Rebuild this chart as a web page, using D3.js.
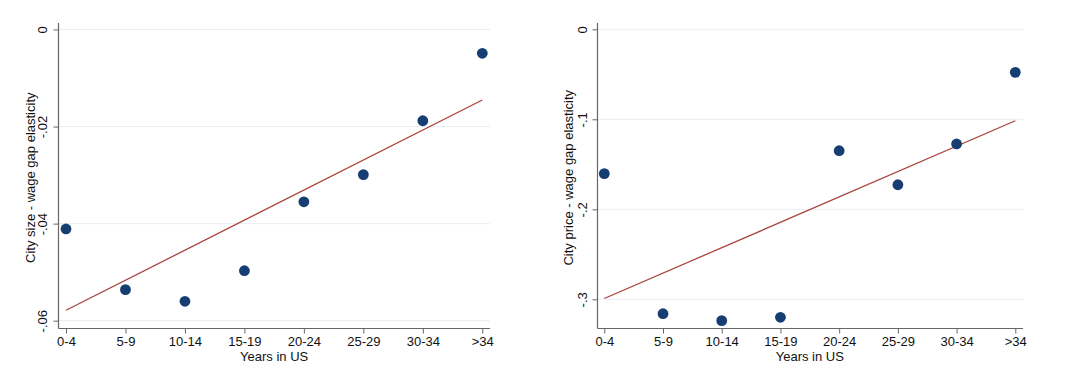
<!DOCTYPE html>
<html lang="en">
<head>
    <meta charset="UTF-8">
    <title>Wage gap elasticity by years in US</title>
    <style>
        body { margin: 0; background: #fff; }
        svg text { font-family: "Liberation Sans", Arial, sans-serif; fill: #111; }
    </style>
</head>
<body>
    <div id="graphArea"></div>
    <script src="https://d3js.org/d3.v7.min.js"></script>
    <script>
        const categories = ["0-4", "5-9", "10-14", "15-19", "20-24", "25-29", "30-34", ">34"];

        const sizeValues = [-0.0411, -0.0536, -0.0560, -0.0497, -0.0355, -0.0299, -0.0188, -0.0049];
        const sizeTicks = [0, -0.02, -0.04, -0.06];
        const sizeTickLabels = ["0", "-.02", "-.04", "-.06"];

        const priceValues = [-0.1604, -0.3160, -0.3237, -0.3200, -0.1349, -0.1727, -0.1274, -0.0478];
        const priceTicks = [0, -0.1, -0.2, -0.3];
        const priceTickLabels = ["0", "-.1", "-.2", "-.3"];

        const xTitle = "Years in US";
        const fontSize = "13px";

        const svg = d3.select("#graphArea")
            .append("svg")
            .attr("width", 1087)
            .attr("height", 377);

        // least squares fit over the category index
        const fitLine = (values) => {
            const n = values.length;
            const mx = d3.mean(values, (d, i) => i);
            const my = d3.mean(values);
            const sxy = d3.sum(values, (d, i) => (i - mx) * (d - my));
            const sxx = d3.sum(values, (d, i) => (i - mx) * (i - mx));
            const b = sxy / sxx;
            const a = my - b * mx;
            return [[0, a], [n - 1, a + b * (n - 1)]];
        };

        const drawPanel = (opts) => {
            const g = svg.append("g");

            const x = d3.scalePoint()
                .domain(categories)
                .range([opts.x0, opts.x1]);

            const y = d3.scaleLinear()
                .domain(opts.domain)
                .range(opts.yRange);

            const xi = d3.scaleLinear()
                .domain([0, categories.length - 1])
                .range([opts.x0, opts.x1]);

            // faint gridlines
            g.selectAll(".grid")
                .data(opts.ticks)
                .enter()
                .append("line")
                .attr("x1", opts.axisX)
                .attr("x2", opts.right)
                .attr("y1", d => y(d))
                .attr("y2", d => y(d))
                .attr("stroke", "#e8eef3")
                .attr("stroke-width", 1);

            // y axis, labels rotated like Stata
            const yAxis = g.append("g")
                .attr("transform", `translate(${opts.axisX},0)`)
                .call(d3.axisLeft(y)
                    .tickValues(opts.ticks)
                    .tickFormat((d, i) => opts.tickLabels[i])
                    .tickSize(5)
                    .tickSizeOuter(0));
            yAxis.select(".domain").remove();
            yAxis.selectAll(".tick line").attr("stroke", "#666");
            yAxis.selectAll(".tick text")
                .attr("transform", "rotate(-90)")
                .attr("x", 0)
                .attr("y", opts.labelX - opts.axisX + 4)
                .attr("dy", 0)
                .style("text-anchor", "middle")
                .style("font-size", fontSize);

            g.append("line")
                .attr("x1", opts.axisX)
                .attr("x2", opts.axisX)
                .attr("y1", opts.top)
                .attr("y2", opts.bottom)
                .attr("stroke", "#666")
                .attr("stroke-width", 1.2);

            // x axis
            const xAxis = g.append("g")
                .attr("transform", `translate(0,${opts.bottom})`)
                .call(d3.axisBottom(x).tickSize(5).tickSizeOuter(0));
            xAxis.select(".domain").remove();
            xAxis.selectAll(".tick line").attr("stroke", "#666");
            xAxis.selectAll(".tick text")
                .attr("y", 8)
                .style("font-size", fontSize);

            g.append("line")
                .attr("x1", opts.axisX)
                .attr("x2", opts.right)
                .attr("y1", opts.bottom)
                .attr("y2", opts.bottom)
                .attr("stroke", "#666")
                .attr("stroke-width", 1.2);

            // fitted line
            g.append("path")
                .datum(fitLine(opts.values))
                .attr("fill", "none")
                .attr("stroke", "#a8443c")
                .attr("stroke-width", 1.3)
                .attr("d", d3.line().x(d => xi(d[0])).y(d => y(d[1])));

            // points
            g.selectAll(".dot")
                .data(opts.values)
                .enter()
                .append("circle")
                .attr("cx", (d, i) => x(categories[i]))
                .attr("cy", d => y(d))
                .attr("r", 5.4)
                .attr("fill", "#173e73");

            // axis titles
            g.append("text")
                .attr("x", (opts.x0 + opts.x1) / 2)
                .attr("y", 361)
                .style("text-anchor", "middle")
                .style("font-size", fontSize)
                .text(xTitle);

            g.append("text")
                .attr("transform", `translate(${opts.titleX},${(opts.top + opts.bottom) / 2 + 2}) rotate(-90)`)
                .style("text-anchor", "middle")
                .style("font-size", fontSize)
                .text(opts.yTitle);
        };

        drawPanel({
            values: sizeValues,
            domain: [-0.06, 0],
            yRange: [320.7, 29.5],
            ticks: sizeTicks,
            tickLabels: sizeTickLabels,
            axisX: 58.5,
            right: 490,
            x0: 66,
            x1: 482.3,
            top: 23,
            bottom: 328.5,
            labelX: 43,
            titleX: 35,
            yTitle: "City size - wage gap elasticity"
        });

        drawPanel({
            values: priceValues,
            domain: [-0.3, 0],
            yRange: [299.3, 29.3],
            ticks: priceTicks,
            tickLabels: priceTickLabels,
            axisX: 597.5,
            right: 1023,
            x0: 604.3,
            x1: 1015.3,
            top: 23,
            bottom: 328.5,
            labelX: 583,
            titleX: 573,
            yTitle: "City price - wage gap elasticity"
        });
    </script>
</body>
</html>
